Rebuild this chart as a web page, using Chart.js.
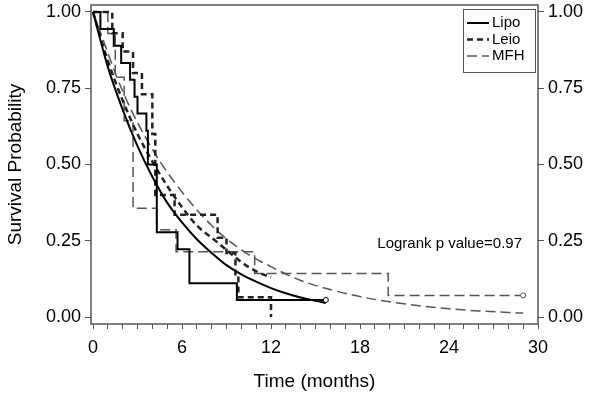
<!DOCTYPE html>
<html>
<head>
<meta charset="utf-8">
<script src="https://cdn.jsdelivr.net/npm/chart.js@4.4.0/dist/chart.umd.min.js"></script>
<style>
  html, body { margin: 0; padding: 0; background: #fff; }
</style>
</head>
<body>
<canvas id="km" width="601" height="401"></canvas>
<script>
// Kaplan-Meier steps (time in months, survival after the drop)
const lipoTimes = [0, 0.5, 1.4, 1.9, 2.5, 2.8, 3.0, 3.6, 3.7, 4.3, 5.7, 6.5, 9.7, 15.7]
const lipoSurv  = [1.0, 0.944, 0.889, 0.833, 0.778, 0.722, 0.667, 0.611, 0.5, 0.278, 0.222, 0.111, 0.056, 0.056]

const leioTimes = [0, 1.3, 2.0, 2.7, 3.3, 4.0, 4.2, 5.5, 8.4, 9.0, 9.6, 9.8, 12.0]
const leioSurv  = [1.0, 0.93, 0.87, 0.8, 0.73, 0.6, 0.4, 0.335, 0.26, 0.21, 0.14, 0.065, 0.0]

const mfhTimes = [0, 1.0, 1.5, 2.1, 2.7, 4.3, 5.6, 10.9, 19.9, 29.0]
const mfhSurv  = [1.0, 0.929, 0.786, 0.643, 0.357, 0.286, 0.214, 0.143, 0.071, 0.071]

// fitted (smooth) curves
const lipoFitTimes = [0, 1, 2, 3, 4, 5, 6, 7, 8, 9, 10, 11, 12, 13, 14, 15, 15.7]
const lipoFitSurv  = [1, 0.82, 0.68, 0.56, 0.46, 0.375, 0.31, 0.255, 0.21, 0.17, 0.14, 0.116, 0.095, 0.078, 0.064, 0.053, 0.046]

const leioFitTimes = [0, 1, 2, 3, 4, 5, 6, 7, 8, 9, 10, 11, 12]
const leioFitSurv  = [1, 0.84, 0.71, 0.6, 0.51, 0.43, 0.36, 0.3, 0.26, 0.22, 0.18, 0.15, 0.13]

const mfhFitTimes = [0, 2, 4, 6, 8, 10, 12, 14, 16, 18, 20, 22, 24, 26, 28, 29]
const mfhFitSurv  = [1, 0.74, 0.55, 0.41, 0.3, 0.22, 0.165, 0.12, 0.09, 0.067, 0.05, 0.037, 0.027, 0.02, 0.015, 0.013]

const xTicks = [...Array(31).keys()]
const yTicks = [0, 0.25, 0.5, 0.75, 1]

const groups = [
  { name: "Lipo", color: "#000", width: 2, dash: [] },
  { name: "Leio", color: "#222", width: 2.5, dash: [6, 4] },
  { name: "MFH", color: "#555", width: 1.5, dash: [10, 5] },
]

function pts(times, surv) {
  return times.map((t, i) => ({ x: t, y: surv[i] }))
}

function lastOnly(n, r) {
  return Array.from({ length: n }, (_, i) => (i === n - 1 ? r : 0))
}

Chart.defaults.font.family = "'Liberation Sans', Arial, sans-serif"
Chart.defaults.color = "#000"

// frame round the plot area
const framePlugin = {
  id: "frame",
  afterDraw(chart) {
    const { ctx, chartArea: a } = chart
    ctx.save()
    ctx.strokeStyle = "#555"
    ctx.lineWidth = 1.5
    ctx.strokeRect(a.left, a.top, a.right - a.left, a.bottom - a.top)
    ctx.restore()
  },
}

// legend box in the corner + logrank text
const legendPlugin = {
  id: "kmLegend",
  afterDraw(chart) {
    const ctx = chart.ctx
    ctx.save()
    ctx.fillStyle = "#fff"
    ctx.fillRect(463, 9, 72, 63)
    ctx.strokeStyle = "#555"
    ctx.lineWidth = 1
    ctx.strokeRect(463.5, 9.5, 72, 63)
    ctx.font = "15px 'Liberation Sans', Arial, sans-serif"
    ctx.textBaseline = "middle"
    groups.forEach((g, i) => {
      const y = 23 + i * 16.5
      ctx.beginPath()
      ctx.setLineDash(g.dash)
      ctx.strokeStyle = g.color
      ctx.lineWidth = g.width
      ctx.moveTo(467, y)
      ctx.lineTo(489, y)
      ctx.stroke()
      ctx.setLineDash([])
      ctx.fillStyle = "#000"
      ctx.fillText(g.name, 492, y)
    })
    ctx.textAlign = "right"
    ctx.fillText("Logrank p value=0.97", 522, 244)
    ctx.restore()
  },
}

function yScale(pos, w) {
  return {
    type: "linear",
    position: pos,
    min: -0.0228,
    max: 1.0228,
    afterBuildTicks: (s) => { s.ticks = yTicks.map((v) => ({ value: v })) },
    afterFit: (s) => { s.width = w; s.paddingTop = 0; s.paddingBottom = 0 },
    grid: { drawOnChartArea: false, tickLength: 6, color: "#555" },
    border: { display: false },
    ticks: { padding: 4, font: { size: 18 }, callback: (v) => v.toFixed(2) },
  }
}

const datasets = []
const km = [
  [lipoTimes, lipoSurv, true],
  [leioTimes, leioSurv, false],
  [mfhTimes, mfhSurv, true],
]
const fits = [
  [lipoFitTimes, lipoFitSurv],
  [leioFitTimes, leioFitSurv],
  [mfhFitTimes, mfhFitSurv],
]
groups.forEach((g, i) => {
  const [t, s, cens] = km[i]
  datasets.push({
    label: g.name,
    data: pts(t, s),
    stepped: "before",
    borderColor: g.color,
    borderWidth: g.width,
    borderDash: g.dash,
    pointRadius: cens ? lastOnly(t.length, 2.5) : 0,
    pointBackgroundColor: "#fff",
    pointBorderColor: g.color,
    pointBorderWidth: 1,
  })
  datasets.push({
    label: g.name + " fit",
    data: pts(fits[i][0], fits[i][1]),
    borderColor: g.color,
    borderWidth: g.width,
    borderDash: g.dash,
    cubicInterpolationMode: "monotone",
    pointRadius: 0,
  })
})

new Chart(document.getElementById("km"), {
  type: "line",
  data: { datasets },
  options: {
    responsive: false,
    animation: false,
    layout: { padding: { top: 3 } },
    plugins: { legend: { display: false }, tooltip: { enabled: false } },
    scales: {
      x: {
        type: "linear",
        min: -0.135,
        max: 30,
        afterBuildTicks: (s) => { s.ticks = xTicks.map((v) => ({ value: v })) },
        afterFit: (s) => { s.height = 77; s.paddingLeft = 0; s.paddingRight = 0 },
        grid: { drawOnChartArea: false, tickLength: 5, color: "#555" },
        border: { display: false },
        ticks: {
          autoSkip: false,
          maxRotation: 0,
          padding: 8,
          font: { size: 18 },
          callback: (v) => (v % 6 === 0 ? String(v) : ""),
        },
        title: { display: true, text: "Time (months)", font: { size: 19 }, padding: { top: 0, bottom: 8 } },
      },
      y: Object.assign(yScale("left", 91), {
        title: { display: true, text: "Survival Probability", font: { size: 19 }, padding: { top: 4, bottom: 0 } },
      }),
      y2: yScale("right", 63),
    },
  },
  plugins: [framePlugin, legendPlugin],
})
</script>
</body>
</html>
